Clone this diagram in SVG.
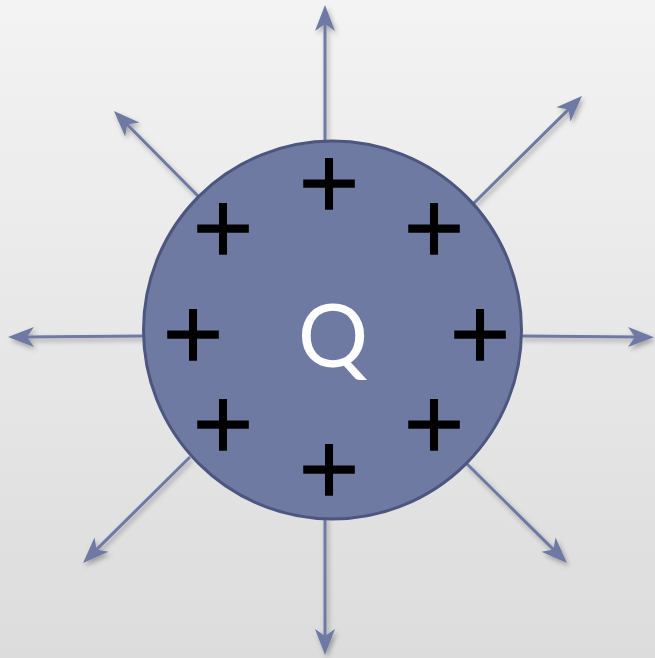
<svg xmlns="http://www.w3.org/2000/svg" width="655" height="658" viewBox="0 0 655 658">
  <defs>
    <linearGradient id="bg" x1="0" y1="0" x2="0" y2="1">
      <stop offset="0" stop-color="#f3f3f3"/>
      <stop offset="1" stop-color="#dcdcdc"/>
    </linearGradient>
    <filter id="shadow" x="-20%" y="-20%" width="140%" height="140%">
      <feDropShadow dx="2" dy="3" stdDeviation="2.5" flood-color="#000" flood-opacity="0.3"/>
    </filter>
    <marker id="arrow" markerUnits="userSpaceOnUse" viewBox="-28 -11 29 22" markerWidth="29" markerHeight="22" refX="-15" refY="0" orient="auto">
      <path d="M0,0 L-26,-10 L-19,0 L-26,10 Z" fill="#6e7aa3"/>
    </marker>
    <style>
      .field { stroke: #6e7aa3; stroke-width: 3; fill: none; marker-end: url(#arrow); }
      .plus { font-family: "DejaVu Sans", sans-serif; font-size: 80px; fill: #000; stroke: #000; stroke-width: 1.5; text-anchor: middle; }
      .label { font-family: Lato, "Liberation Sans", sans-serif; font-size: 88px; fill: #fff; text-anchor: middle; }
    </style>
  </defs>
  <rect x="0" y="0" width="655" height="658" fill="url(#bg)"/>
  <g id="connectors" filter="url(#shadow)">
    <line class="field" x1="325" y1="145" x2="325" y2="20"/>
    <line class="field" x1="325" y1="516" x2="325" y2="640"/>
    <line class="field" x1="146" y1="336" x2="23" y2="337"/>
    <line class="field" x1="520" y1="336" x2="639" y2="337"/>
    <line class="field" x1="199" y1="197" x2="124.5" y2="121.7"/>
    <line class="field" x1="473" y1="204" x2="571.3" y2="106.6"/>
    <line class="field" x1="190" y1="457" x2="93.7" y2="552.4"/>
    <line class="field" x1="466" y1="463" x2="556.3" y2="552.4"/>
  </g>
  <g id="charge">
    <circle cx="332.5" cy="330" r="189" fill="#6e7aa2" stroke="#4c567f" stroke-width="3"/>
    <text class="label" x="333" y="367">Q</text>
    <text class="plus" x="329" y="208.5">+</text>
    <text class="plus" x="223" y="253.5">+</text>
    <text class="plus" x="434" y="253.5">+</text>
    <text class="plus" x="193" y="359.5">+</text>
    <text class="plus" x="480" y="359.5">+</text>
    <text class="plus" x="223" y="449.5">+</text>
    <text class="plus" x="434" y="449.5">+</text>
    <text class="plus" x="329" y="494.5">+</text>
  </g>
</svg>
